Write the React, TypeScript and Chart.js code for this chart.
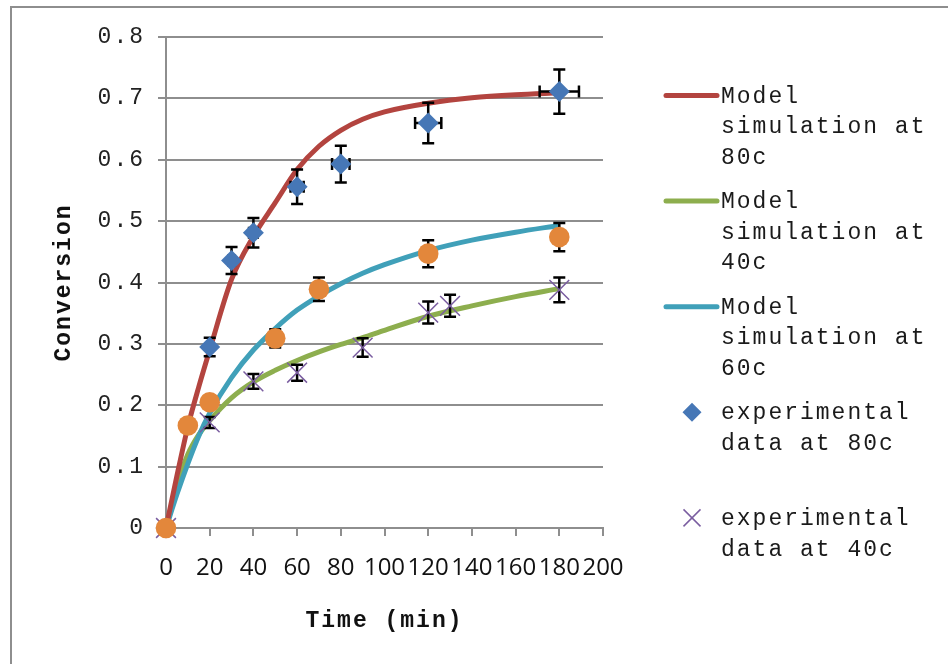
import React, { useEffect, useRef } from 'react';
import { Chart, registerables } from 'chart.js';

Chart.register(...registerables);

// ---- Model curves (time in min, conversion) ----
const modelTime = [0, 5, 10, 15, 20, 30, 40, 50, 60, 70, 80, 90, 100, 120, 140, 160, 180];
const model80 = [0, 0.085, 0.165, 0.23, 0.29, 0.405, 0.475, 0.53, 0.584, 0.622, 0.648, 0.666, 0.678, 0.692, 0.701, 0.706, 0.709];
const model60 = [0, 0.055, 0.105, 0.15, 0.187, 0.245, 0.29, 0.325, 0.355, 0.378, 0.398, 0.415, 0.429, 0.452, 0.469, 0.482, 0.493];
const model40 = [0, 0.07, 0.12, 0.152, 0.175, 0.212, 0.238, 0.257, 0.273, 0.287, 0.299, 0.31, 0.322, 0.345, 0.362, 0.377, 0.39];

// ---- Experimental data ----
const exp80Time = [0, 20, 30, 40, 60, 80, 120, 180];
const exp80Conv = [0, 0.295, 0.436, 0.481, 0.556, 0.593, 0.66, 0.711];
const exp80ErrY = [0, 0.015, 0.022, 0.024, 0.028, 0.03, 0.033, 0.036];
const exp80ErrX = [0, 1, 1.5, 2, 3, 4, 6, 9];

const exp60Time = [0, 10, 20, 50, 70, 120, 180];
const exp60Conv = [0, 0.167, 0.205, 0.309, 0.389, 0.447, 0.474];
const exp60ErrY = [0, 0.008, 0.01, 0.015, 0.019, 0.022, 0.023];

const exp40Time = [0, 20, 40, 60, 90, 120, 130, 180];
const exp40Conv = [0, 0.172, 0.239, 0.253, 0.294, 0.351, 0.362, 0.388];
const exp40ErrY = [0, 0.009, 0.012, 0.013, 0.015, 0.018, 0.018, 0.02];

// ---- Tick labels / text ----
const yTickLabels = ['0', '0.1', '0.2', '0.3', '0.4', '0.5', '0.6', '0.7', '0.8'];
const xTitle = 'Time (min)';
const yTitle = 'Conversion';
const legendLabels = [
  ['Model', 'simulation at', '80c'],
  ['Model', 'simulation at', '40c'],
  ['Model', 'simulation at', '60c'],
  ['experimental', 'data at 80c'],
  ['experimental', 'data at 40c'],
];

// ---- Colours ----
const RED = '#B3443F';
const GREEN = '#8DAE4E';
const TEAL = '#40A0B9';
const BLUE = '#4677B6';
const ORANGE = '#E3873B';
const PURPLE = '#7A5DA0';
const GRID = '#8e8e8e';

const MONO = '"Liberation Mono", "DejaVu Sans Mono", monospace';

const toPoints = (xs: number[], ys: number[]) => xs.map((x, i) => ({ x, y: ys[i] }));

const framePlugin = {
  id: 'frameAndSpacing',
  beforeDraw(chart: any) {
    const ctx = chart.ctx;
    ctx.save();
    ctx.fillStyle = GRID;
    ctx.fillRect(10, 6, 938, 2);
    ctx.fillRect(10, 6, 2, 658);
    ctx.restore();
    ctx.letterSpacing = '2px';
  },
  afterDatasetsDraw(chart: any) {
    chart.ctx.letterSpacing = '0px';
  },
};

const errorBarPlugin = {
  id: 'errorBars',
  beforeDatasetDraw(chart: any, args: any) {
    if (args.index !== 2) return;
    const ctx = chart.ctx;
    const xs = chart.scales.x;
    const ys = chart.scales.y;
    const cap = 6;
    ctx.save();
    ctx.strokeStyle = '#000';
    ctx.lineWidth = 2.5;
    const drawSet = (ts: number[], cs: number[], ey: number[], ex?: number[]) => {
      ts.forEach((t, i) => {
        const px = xs.getPixelForValue(t);
        const py = ys.getPixelForValue(cs[i]);
        if (ey[i] > 0) {
          const y1 = ys.getPixelForValue(cs[i] + ey[i]);
          const y2 = ys.getPixelForValue(cs[i] - ey[i]);
          ctx.beginPath();
          ctx.moveTo(px, y1); ctx.lineTo(px, y2);
          ctx.moveTo(px - cap, y1); ctx.lineTo(px + cap, y1);
          ctx.moveTo(px - cap, y2); ctx.lineTo(px + cap, y2);
          ctx.stroke();
        }
        if (ex && ex[i] > 0) {
          const x1 = xs.getPixelForValue(t - ex[i]);
          const x2 = xs.getPixelForValue(t + ex[i]);
          ctx.beginPath();
          ctx.moveTo(x1, py); ctx.lineTo(x2, py);
          ctx.moveTo(x1, py - cap); ctx.lineTo(x1, py + cap);
          ctx.moveTo(x2, py - cap); ctx.lineTo(x2, py + cap);
          ctx.stroke();
        }
      });
    };
    drawSet(exp80Time, exp80Conv, exp80ErrY, exp80ErrX);
    drawSet(exp60Time, exp60Conv, exp60ErrY);
    drawSet(exp40Time, exp40Conv, exp40ErrY);
    ctx.restore();
  },
};

const legendPlugin = {
  id: 'customLegend',
  afterDraw(chart: any) {
    const ctx = chart.ctx;
    const top = 102.5;
    const step = 105.6;
    const lineGap = 30.6;
    const textX = 721;
    const symX = 692;
    const kinds = [
      { type: 'line', color: RED },
      { type: 'line', color: GREEN },
      { type: 'line', color: TEAL },
      { type: 'diamond', color: BLUE },
      { type: 'cross', color: PURPLE },
    ];
    ctx.save();
    ctx.font = '23px ' + MONO;
    ctx.letterSpacing = '2px';
    ctx.textAlign = 'left';
    ctx.textBaseline = 'alphabetic';
    legendLabels.forEach((lines, i) => {
      const base = top + i * step;
      const cy = base - 7;
      const k = kinds[i];
      if (k.type === 'line') {
        ctx.strokeStyle = k.color;
        ctx.lineWidth = 5;
        ctx.lineCap = 'round';
        ctx.beginPath();
        ctx.moveTo(666, cy);
        ctx.lineTo(717, cy);
        ctx.stroke();
      } else if (k.type === 'diamond') {
        const r = 9.5;
        ctx.fillStyle = k.color;
        ctx.beginPath();
        ctx.moveTo(symX - r, cy);
        ctx.lineTo(symX, cy - r);
        ctx.lineTo(symX + r, cy);
        ctx.lineTo(symX, cy + r);
        ctx.closePath();
        ctx.fill();
      } else {
        const h = 8.5;
        ctx.strokeStyle = k.color;
        ctx.lineWidth = 1.5;
        ctx.lineCap = 'butt';
        ctx.beginPath();
        ctx.moveTo(symX - h, cy - h); ctx.lineTo(symX + h, cy + h);
        ctx.moveTo(symX + h, cy - h); ctx.lineTo(symX - h, cy + h);
        ctx.stroke();
      }
      ctx.fillStyle = '#1a1a1a';
      lines.forEach((line, j) => ctx.fillText(line, textX, base + j * lineGap));
    });
    ctx.restore();
  },
};

export default function App() {
  const ref = useRef<HTMLCanvasElement>(null);
  useEffect(() => {
    if (!ref.current) return;
    const chart = new Chart(ref.current, {
      type: 'scatter',
      data: {
        datasets: [
          {
            label: 'experimental data at 60c',
            data: toPoints(exp60Time, exp60Conv),
            pointStyle: 'circle',
            pointRadius: 10.3,
            backgroundColor: ORANGE,
            borderColor: ORANGE,
            borderWidth: 0,
            showLine: false,
            clip: false,
          },
          {
            label: 'experimental data at 40c',
            data: toPoints(exp40Time, exp40Conv),
            pointStyle: 'crossRot',
            pointRadius: 14,
            backgroundColor: PURPLE,
            borderColor: PURPLE,
            borderWidth: 1.5,
            showLine: false,
            clip: false,
          },
          {
            label: 'experimental data at 80c',
            data: toPoints(exp80Time, exp80Conv),
            pointStyle: 'rectRot',
            pointRadius: 10.5,
            backgroundColor: BLUE,
            borderColor: BLUE,
            borderWidth: 0,
            showLine: false,
            clip: false,
          },
          {
            label: 'Model simulation at 80c',
            data: toPoints(modelTime, model80),
            showLine: true,
            borderColor: RED,
            backgroundColor: RED,
            borderWidth: 5,
            pointRadius: 0,
            cubicInterpolationMode: 'monotone',
            fill: false,
            clip: false,
          },
          {
            label: 'Model simulation at 60c',
            data: toPoints(modelTime, model60),
            showLine: true,
            borderColor: TEAL,
            backgroundColor: TEAL,
            borderWidth: 5,
            pointRadius: 0,
            cubicInterpolationMode: 'monotone',
            fill: false,
            clip: false,
          },
          {
            label: 'Model simulation at 40c',
            data: toPoints(modelTime, model40),
            showLine: true,
            borderColor: GREEN,
            backgroundColor: GREEN,
            borderWidth: 5,
            pointRadius: 0,
            cubicInterpolationMode: 'monotone',
            fill: false,
            clip: false,
          },
        ] as any,
      },
      options: {
        responsive: false,
        animation: false,
        events: [],
        layout: { padding: { left: 0, right: 345, top: 37, bottom: 0 } },
        plugins: {
          legend: { display: false },
          tooltip: { enabled: false },
        },
        scales: {
          x: {
            type: 'linear',
            min: 0,
            max: 200,
            afterFit: (s: any) => { s.height = 136; },
            ticks: {
              stepSize: 20,
              autoSkip: false,
              maxRotation: 0,
              minRotation: 0,
              padding: 18,
              color: '#111',
              font: { family: '"Open Sans", sans-serif', size: 24 },
              z: 1,
            },
            grid: {
              drawOnChartArea: false,
              drawTicks: true,
              tickLength: 8,
              color: GRID,
              lineWidth: 2,
            },
            border: { display: true, color: GRID, width: 2 },
            title: {
              display: true,
              text: xTitle,
              color: '#111',
              font: { family: MONO, size: 23, weight: 'bold' },
              padding: { top: 0, bottom: 29 },
            },
          },
          y: {
            type: 'linear',
            min: 0,
            max: 0.8,
            afterFit: (s: any) => { s.width = 166; },
            ticks: {
              stepSize: 0.1,
              padding: 13,
              color: '#222',
              font: { family: MONO, size: 23 },
              callback: (_v: any, i: number) => yTickLabels[i],
            },
            grid: {
              drawTicks: true,
              tickLength: 8,
              color: GRID,
              lineWidth: 2,
            },
            border: { display: true, color: GRID, width: 2 },
            title: {
              display: true,
              text: yTitle,
              color: '#111',
              font: { family: MONO, size: 23, weight: 'bold' },
              padding: { top: 50, bottom: 0 },
            },
          },
        },
      } as any,
      plugins: [framePlugin, errorBarPlugin, legendPlugin],
    });
    return () => chart.destroy();
  }, []);
  return (
    <div style={{ position: 'fixed', left: 0, top: 0, width: 948, height: 664, background: '#fff' }}>
      <canvas ref={ref} width={948} height={664} style={{ display: 'block', width: 948, height: 664 }} />
    </div>
  );
}
